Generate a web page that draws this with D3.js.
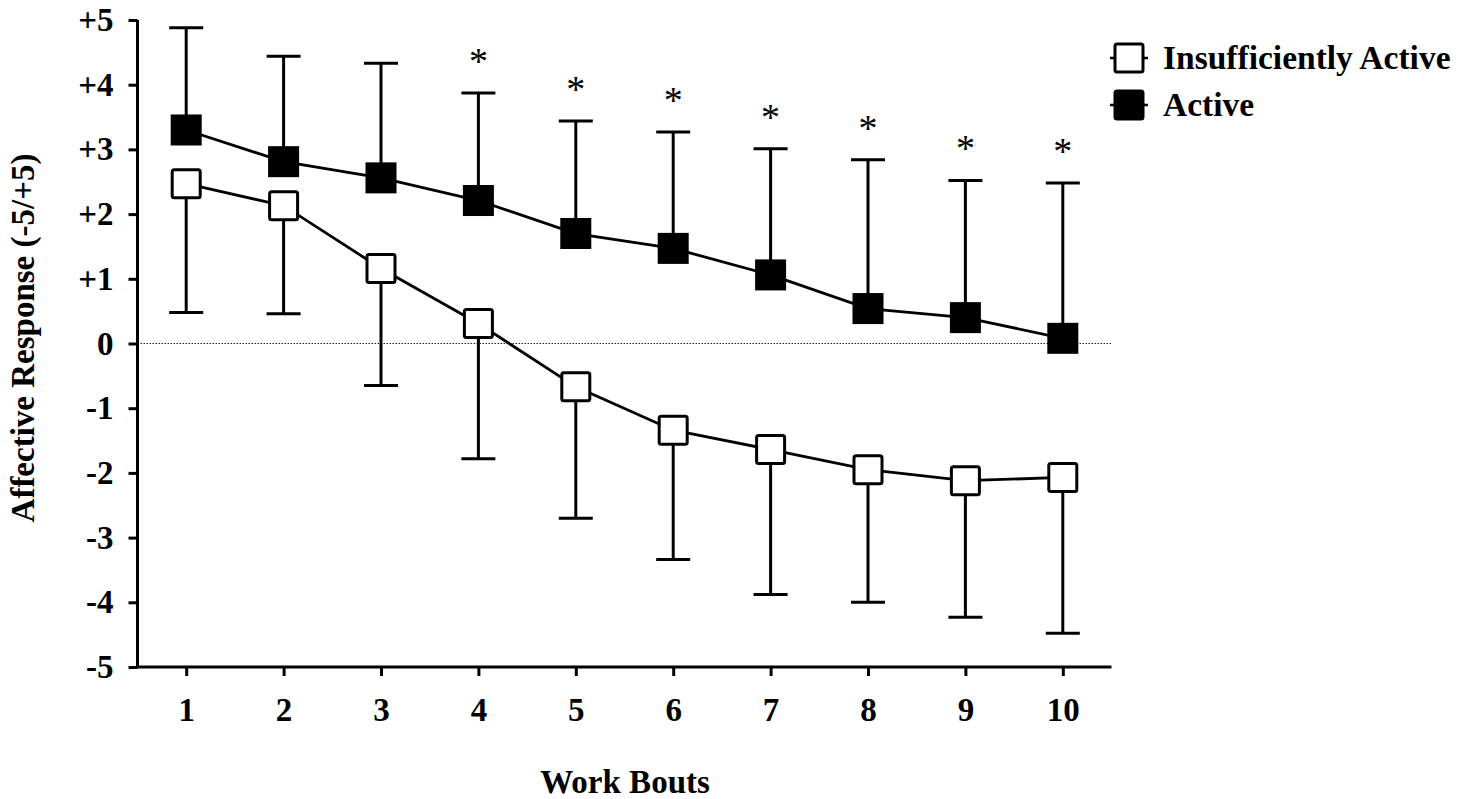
<!DOCTYPE html>
<html>
<head>
<meta charset="utf-8">
<script src="https://cdn.jsdelivr.net/npm/d3@7"></script>
<style>
  body { margin: 0; background: #fff; }
  text { font-family: "Liberation Serif", "Times New Roman", serif; }
</style>
</head>
<body>
<div id="chart"></div>
<script>
// data
var bouts = [1, 2, 3, 4, 5, 6, 7, 8, 9, 10];
var activeMean = [3.30, 2.81, 2.56, 2.21, 1.70, 1.47, 1.06, 0.54, 0.40, 0.08];
var activeUpper = [4.88, 4.44, 4.33, 3.87, 3.44, 3.27, 3.01, 2.84, 2.52, 2.48];
var inactiveMean = [2.47, 2.13, 1.16, 0.31, -0.67, -1.34, -1.64, -1.95, -2.12, -2.07];
var inactiveLower = [0.48, 0.46, -0.65, -1.78, -2.70, -3.34, -3.88, -4.00, -4.23, -4.48];
var significant = [4, 5, 6, 7, 8, 9, 10];
var yTicks = [5, 4, 3, 2, 1, 0, -1, -2, -3, -4, -5];

var width = 1468, height = 799;

var svg = d3.select("#chart")
  .append("svg")
    .attr("width", width)
    .attr("height", height);

var x = d3.scaleLinear()
    .domain([0.5, 10.5])
    .range([137.5, 1111.5]);

var y = d3.scaleLinear()
    .domain([-5, 5])
    .range([667, 20]);

// zero reference line
svg.append("line")
    .attr("x1", x(0.5))
    .attr("x2", x(10.5))
    .attr("y1", y(0))
    .attr("y2", y(0))
    .style("stroke", "#222")
    .style("stroke-width", 1)
    .style("stroke-dasharray", "1.5,1.5");

// axes
var yAxis = svg.append("g")
    .attr("transform", "translate(" + x(0.5) + ",0)")
    .call(d3.axisLeft(y)
      .tickValues(yTicks)
      .tickSize(9)
      .tickPadding(15)
      .tickFormat(function(d) { return d > 0 ? "+" + d : (d < 0 ? "-" + Math.abs(d) : "0"); }));

var xAxis = svg.append("g")
    .attr("transform", "translate(0," + y(-5) + ")")
    .call(d3.axisBottom(x)
      .tickValues(bouts)
      .tickSize(9)
      .tickPadding(22)
      .tickFormat(d3.format("d")));

[yAxis, xAxis].forEach(function(g) {
  g.select(".domain").attr("d", null);
  g.selectAll("line").style("stroke", "#000").style("stroke-width", 3);
  g.selectAll("text")
    .style("font-size", "33px")
    .style("font-weight", "bold")
    .style("font-family", "'Liberation Serif', serif")
    .style("fill", "#000");
});

// axis lines drawn separately so the corner is square
svg.append("path")
    .attr("d", "M" + x(0.5) + "," + y(5) + "V" + y(-5) + "H" + x(10.5))
    .style("fill", "none")
    .style("stroke", "#000")
    .style("stroke-width", 3);

// axis titles
svg.append("text")
    .attr("transform", "translate(34," + 338 + ") rotate(-90)")
    .attr("text-anchor", "middle")
    .style("font-size", "33px")
    .style("font-weight", "bold")
    .text("Affective Response (-5/+5)");

svg.append("text")
    .attr("x", 625)
    .attr("y", 793)
    .attr("text-anchor", "middle")
    .style("font-size", "33px")
    .style("font-weight", "bold")
    .text("Work Bouts");

var line = d3.line()
    .x(function(d) { return x(d[0]); })
    .y(function(d) { return y(d[1]); });

var activePts = bouts.map(function(b, i) { return [b, activeMean[i]]; });
var inactivePts = bouts.map(function(b, i) { return [b, inactiveMean[i]]; });

[activePts, inactivePts].forEach(function(pts) {
  svg.append("path")
      .datum(pts)
      .attr("d", line)
      .style("fill", "none")
      .style("stroke", "#000")
      .style("stroke-width", 2.8);
});

// error bars
var capW = 17;
function errorBars(means, bounds) {
  bouts.forEach(function(b, i) {
    svg.append("line")
        .attr("x1", x(b)).attr("x2", x(b))
        .attr("y1", y(means[i])).attr("y2", y(bounds[i]))
        .style("stroke", "#000").style("stroke-width", 3);
    svg.append("line")
        .attr("x1", x(b) - capW).attr("x2", x(b) + capW)
        .attr("y1", y(bounds[i])).attr("y2", y(bounds[i]))
        .style("stroke", "#000").style("stroke-width", 3);
  });
}
errorBars(activeMean, activeUpper);
errorBars(inactiveMean, inactiveLower);

// markers
var ms = 31;
svg.selectAll(".active")
  .data(activePts)
  .enter().append("rect")
    .attr("x", function(d) { return x(d[0]) - ms / 2; })
    .attr("y", function(d) { return y(d[1]) - ms / 2; })
    .attr("width", ms)
    .attr("height", ms)
    .style("fill", "#000");

svg.selectAll(".inactive")
  .data(inactivePts)
  .enter().append("rect")
    .attr("x", function(d) { return x(d[0]) - (ms - 3) / 2; })
    .attr("y", function(d) { return y(d[1]) - (ms - 3) / 2; })
    .attr("width", ms - 3)
    .attr("height", ms - 3)
    .attr("rx", 2)
    .style("fill", "#fff")
    .style("stroke", "#000")
    .style("stroke-width", 3);

// significance stars
significant.forEach(function(b) {
  svg.append("text")
      .attr("x", x(b))
      .attr("y", y(activeUpper[b - 1]) - 19)
      .attr("text-anchor", "middle")
      .style("font-size", "38px")
      .text("*");
});

// legend
var legend = [
  {label: "Insufficiently Active", fill: "#fff", cy: 58},
  {label: "Active", fill: "#000", cy: 105}
];
legend.forEach(function(l) {
  svg.append("line")
      .attr("x1", 1110).attr("x2", 1148)
      .attr("y1", l.cy).attr("y2", l.cy)
      .style("stroke", "#000").style("stroke-width", 2.5);
  svg.append("rect")
      .attr("x", 1129 - (ms - 3) / 2)
      .attr("y", l.cy - (ms - 3) / 2)
      .attr("width", ms - 3)
      .attr("height", ms - 3)
      .attr("rx", 2)
      .style("fill", l.fill)
      .style("stroke", "#000")
      .style("stroke-width", 3);
  svg.append("text")
      .attr("x", 1163)
      .attr("y", l.cy + 11)
      .style("font-size", "33.5px")
      .style("font-weight", "bold")
      .text(l.label);
});
</script>
</body>
</html>
